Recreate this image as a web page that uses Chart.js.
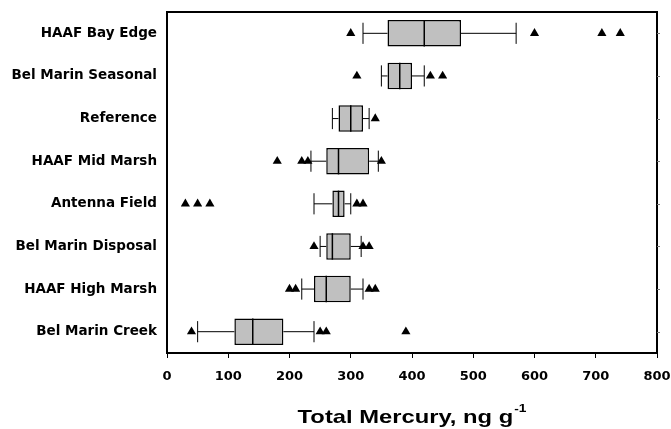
<!DOCTYPE html>
<html>
<head>
<meta charset="utf-8">
<script src="https://cdn.jsdelivr.net/npm/chart.js@4"></script>
<style>
  html, body { margin: 0; padding: 0; background: #fff; }
  #wrap { width: 671px; height: 429px; position: relative; }
</style>
</head>
<body>
<div id="wrap"><canvas id="c" width="671" height="429"></canvas></div>
<script>
const categories = ['HAAF Bay Edge', 'Bel Marin Seasonal', 'Reference', 'HAAF Mid Marsh',
  'Antenna Field', 'Bel Marin Disposal', 'HAAF High Marsh', 'Bel Marin Creek'];
const whiskerLow  = [320, 350, 270, 235, 240, 250, 220, 50];
const q1          = [360, 360, 280, 260, 270, 260, 240, 110];
const median      = [420, 380, 300, 280, 280, 270, 260, 140];
const q3          = [480, 400, 320, 330, 290, 300, 300, 190];
const whiskerHigh = [570, 420, 330, 345, 300, 317, 320, 240];
const outliersBayEdge   = [300, 600, 710, 740];
const outliersSeasonal  = [310, 430, 450];
const outliersReference = [340];
const outliersMidMarsh  = [180, 220, 230, 350];
const outliersAntenna   = [30, 50, 70, 310, 320];
const outliersDisposal  = [240, 320, 330];
const outliersHighMarsh = [200, 210, 330, 340];
const outliersCreek     = [40, 250, 260, 390];
const xTicks = [0, 100, 200, 300, 400, 500, 600, 700, 800];
const axisTitle = 'Total Mercury, ng g';
const axisTitleSup = '-1';

const outlierLists = [outliersBayEdge, outliersSeasonal, outliersReference, outliersMidMarsh,
  outliersAntenna, outliersDisposal, outliersHighMarsh, outliersCreek];
const outlierPoints = [];
outlierLists.forEach((list, i) => list.forEach(v => outlierPoints.push({ x: v, y: categories[i] })));

const FONT = "'Liberation Sans', Arial, Helvetica, sans-serif";
const TICKFONT = "'DejaVu Sans', 'Liberation Sans', sans-serif";

const boxPlugin = {
  id: 'boxExtras',
  beforeDatasetsDraw(chart) {
    const ctx = chart.ctx;
    const xs = chart.scales.x, ys = chart.scales.y;
    const meta = chart.getDatasetMeta(0);
    ctx.save();
    ctx.strokeStyle = '#000';
    ctx.lineWidth = 1;
    categories.forEach((c, i) => {
      const y = ys.getPixelForValue(i);
      const bh = meta.data[i].height;
      const cap = bh * 0.8;
      const xl = xs.getPixelForValue(whiskerLow[i]);
      const xq1 = xs.getPixelForValue(q1[i]);
      const xq3 = xs.getPixelForValue(q3[i]);
      const xh = xs.getPixelForValue(whiskerHigh[i]);
      ctx.beginPath();
      ctx.moveTo(xl, y); ctx.lineTo(xq1, y);
      ctx.moveTo(xq3, y); ctx.lineTo(xh, y);
      ctx.moveTo(xl, y - cap / 2); ctx.lineTo(xl, y + cap / 2);
      ctx.moveTo(xh, y - cap / 2); ctx.lineTo(xh, y + cap / 2);
      ctx.stroke();
    });
    ctx.restore();
  },
  afterDatasetDraw(chart, args) {
    if (args.index !== 0) return;
    const ctx = chart.ctx;
    const xs = chart.scales.x, ys = chart.scales.y;
    const meta = chart.getDatasetMeta(0);
    ctx.save();
    ctx.strokeStyle = '#000';
    ctx.lineWidth = 1.5;
    categories.forEach((c, i) => {
      const y = ys.getPixelForValue(i);
      const bh = meta.data[i].height;
      const xm = xs.getPixelForValue(median[i]);
      ctx.beginPath();
      ctx.moveTo(xm, y - bh / 2); ctx.lineTo(xm, y + bh / 2);
      ctx.stroke();
    });
    ctx.restore();
  },
  afterDraw(chart) {
    const ctx = chart.ctx;
    const a = chart.chartArea;
    const ys = chart.scales.y;
    ctx.save();
    ctx.strokeStyle = '#000';
    ctx.lineWidth = 2;
    ctx.strokeRect(a.left, a.top, a.right - a.left, a.bottom - a.top);
    ctx.lineWidth = 1;
    ctx.strokeStyle = '#777';
    categories.forEach((c, i) => {
      const y = Math.round(ys.getPixelForValue(i)) + 0.5;
      ctx.beginPath();
      ctx.moveTo(a.right, y); ctx.lineTo(a.right + 3, y);
      ctx.stroke();
    });
    // axis title with superscript, slightly widened like the reference
    const sx = 1.25;
    ctx.fillStyle = '#000';
    ctx.textBaseline = 'alphabetic';
    ctx.textAlign = 'left';
    ctx.font = 'bold 19px ' + FONT;
    const w1 = ctx.measureText(axisTitle).width * sx;
    ctx.font = 'bold 11px ' + FONT;
    const w2 = ctx.measureText(axisTitleSup).width * sx;
    const cx = (a.left + a.right) / 2;
    const start = cx - (w1 + 1 + w2) / 2;
    ctx.save();
    ctx.translate(start, 423);
    ctx.scale(sx, 1);
    ctx.font = 'bold 19px ' + FONT;
    ctx.fillText(axisTitle, 0, 0);
    ctx.restore();
    ctx.save();
    ctx.translate(start + w1 + 1, 412);
    ctx.scale(sx, 1);
    ctx.font = 'bold 11px ' + FONT;
    ctx.fillText(axisTitleSup, 0, 0);
    ctx.restore();
    ctx.restore();
  }
};

new Chart(document.getElementById('c'), {
  type: 'bar',
  data: {
    labels: categories,
    datasets: [
      {
        type: 'bar',
        data: categories.map((c, i) => [q1[i], q3[i]]),
        backgroundColor: '#c0c0c0',
        borderColor: '#000',
        borderWidth: 1.5,
        borderSkipped: false,
        barPercentage: 0.62,
        categoryPercentage: 1.0,
        order: 2
      },
      {
        type: 'scatter',
        data: outlierPoints,
        pointStyle: 'triangle',
        radius: 5.3,
        backgroundColor: '#000',
        borderColor: '#000',
        borderWidth: 0,
        showLine: false,
        order: 1
      }
    ]
  },
  options: {
    indexAxis: 'y',
    responsive: false,
    animation: false,
    events: [],
    layout: { padding: { left: 0, top: 12, right: 14, bottom: 0 } },
    plugins: { legend: { display: false }, tooltip: { enabled: false }, title: { display: false } },
    scales: {
      x: {
        type: 'linear',
        position: 'bottom',
        min: 0, max: 800,
        afterBuildTicks(scale) { scale.ticks = xTicks.map(v => ({ value: v })); },
        afterFit(scale) { scale.height = 76; scale.paddingLeft = 0; scale.paddingRight = 0; },
        ticks: { color: '#000', font: { family: TICKFONT, size: 13, weight: 'bold' }, padding: 11, maxRotation: 0 },
        grid: { drawOnChartArea: false, drawTicks: true, tickLength: 5, color: '#000', lineWidth: 1 },
        border: { display: false }
      },
      y: {
        type: 'category',
        position: 'left',
        afterFit(scale) { scale.width = 167; scale.paddingTop = 0; scale.paddingBottom = 0; },
        ticks: { color: '#000', font: { family: TICKFONT, size: 13.5, weight: 'bold' }, padding: 10 },
        grid: { display: false, drawTicks: false },
        border: { display: false }
      }
    }
  },
  plugins: [boxPlugin]
});
</script>
</body>
</html>
